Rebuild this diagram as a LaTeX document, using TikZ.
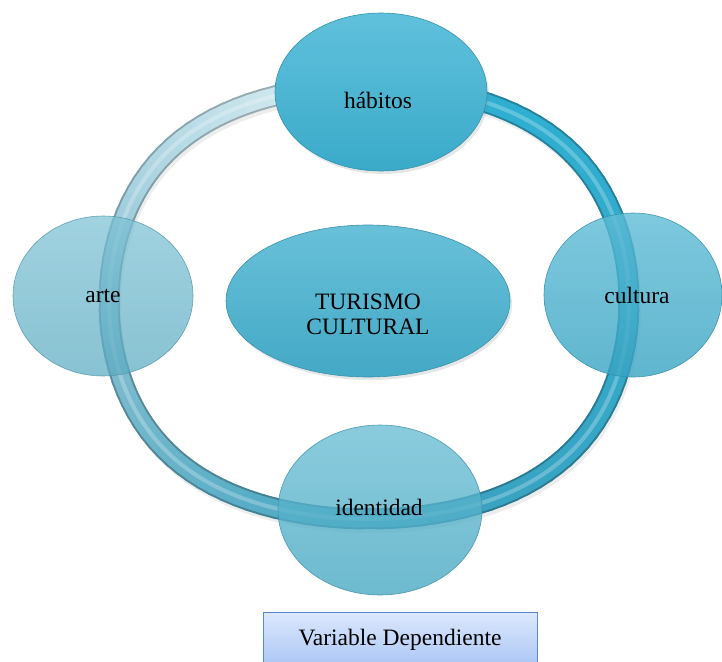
\documentclass[tikz,border=0pt]{standalone}
\usepackage{fontspec}
\setmainfont{Liberation Serif}
\usetikzlibrary{shapes.geometric,shadows}

\definecolor{ringlight}{HTML}{D2E9F0}
\definecolor{ringmid}{HTML}{7DBBCE}
\definecolor{ringdark}{HTML}{3AA2C0}
\definecolor{ringbright}{HTML}{2AB4D8}
\definecolor{habcol}{HTML}{3DB3D4}
\definecolor{midcol}{HTML}{47B2D0}
\definecolor{artecol}{HTML}{5FB3CB}
\definecolor{cultcol}{HTML}{3AACCC}
\definecolor{identcol}{HTML}{48AFCB}
\definecolor{boxtop}{HTML}{DCE8FD}
\definecolor{boxbot}{HTML}{A9C5F4}
\definecolor{boxline}{HTML}{5B8BC6}

% colour of the ring at angle #1
\newcommand{\ringcolor}[1]{%
  \pgfmathsetmacro\rs{mod(#1+255,360)}%
  \pgfmathtruncatemacro\rseg{\rs<90 ? 0 : (\rs<180 ? 1 : 2)}%
  \ifcase\rseg
    \pgfmathtruncatemacro\rp{\rs/0.9}\colorlet{rc}{ringmid!\rp!ringlight}%
  \or
    \pgfmathtruncatemacro\rp{(\rs-90)/0.9}\colorlet{rc}{ringdark!\rp!ringmid}%
  \or
    \pgfmathtruncatemacro\rp{(\rs-180)/1.8}\colorlet{rc}{ringbright!\rp!ringdark}%
  \fi}

\begin{document}
\begin{tikzpicture}[x=1pt, y=-1pt,
  declare function={
    ringx(\t)=369+260*(1.02*cos(\t)-0.02*cos(3*\t));
    ringy(\t)=302-217*(1.02*sin(\t)+0.02*sin(3*\t));
  },
  bubble/.style={ellipse, inner sep=0pt, draw=#1!82!black, line width=0.6pt,
    top color=#1!82!white, bottom color=#1!95!black},
  txt/.style={font=\fontsize{23.5}{25}\selectfont, inner sep=0pt, anchor=base},
  varbox/.style={rectangle, draw=boxline, line width=0.9pt, top color=boxtop,
    bottom color=boxbot, minimum width=274pt, minimum height=56pt, inner sep=0pt,
    font=\fontsize{23.5}{25}\selectfont}
]
\useasboundingbox (0,0) rectangle (722,661);
\clip (0,0) rectangle (722,661);

% Ring shadow
\draw[line width=20pt, black!7, smooth cycle, samples=121, domain=0:357]
  plot ({ringx(\x)+2},{ringy(\x)+4});

% Ring rim
\foreach \i in {0,...,119} {
  \pgfmathsetmacro\a{3*\i+1.5}
  \pgfmathsetmacro\b{3*\i+4.5}
  \ringcolor{\a}
  \draw[line width=21pt, line cap=round, rc!75!black]
    ({ringx(\a)},{ringy(\a)}) -- ({ringx(\b)},{ringy(\b)});
}

% Ring body
\foreach \i in {0,...,119} {
  \pgfmathsetmacro\a{3*\i+1.5}
  \pgfmathsetmacro\b{3*\i+4.5}
  \ringcolor{\a}
  \draw[line width=17pt, line cap=round, rc]
    ({ringx(\a)},{ringy(\a)}) -- ({ringx(\b)},{ringy(\b)});
}

% Ring highlight
\draw[line width=4pt, white, opacity=0.25, smooth cycle, samples=121, domain=0:357]
  plot ({ringx(\x)},{ringy(\x)});

% Bubbles
\node[bubble=midcol, minimum width=284pt, minimum height=152pt,
  drop shadow={opacity=0.2, shadow xshift=2pt, shadow yshift=-3pt}] (turismo) at (368,301) {};
\node[bubble=habcol, minimum width=212pt, minimum height=158pt,
  drop shadow={opacity=0.2, shadow xshift=2pt, shadow yshift=-3pt}] (habitos) at (381,92) {};
\node[bubble=artecol, fill opacity=0.72, draw opacity=0.8,
  minimum width=180pt, minimum height=160pt] (arte) at (103,296) {};
\node[bubble=cultcol, fill opacity=0.8, draw opacity=0.85,
  minimum width=178pt, minimum height=164pt] (cultura) at (633,295) {};
\node[bubble=identcol, fill opacity=0.78, draw opacity=0.85,
  minimum width=204pt, minimum height=170pt] (identidad) at (380,510) {};

% Labels
\node[txt] (habitos-txt) at ([xshift=-3pt, yshift=-16pt]habitos.center) {hábitos};
\node[txt] (arte-txt) at ([yshift=-6pt]arte.center) {arte};
\node[txt] (cultura-txt) at ([xshift=4pt, yshift=-8pt]cultura.center) {cultura};
\node[txt] (identidad-txt) at ([xshift=-1pt, yshift=-5pt]identidad.center) {identidad};
\node[txt, anchor=center, align=center] (turismo-txt) at ([yshift=-13pt]turismo.center)
  {TURISMO\\CULTURAL};

% Box
\node[varbox] (variable) at (400,640) {Variable Dependiente};
\end{tikzpicture}
\end{document}
